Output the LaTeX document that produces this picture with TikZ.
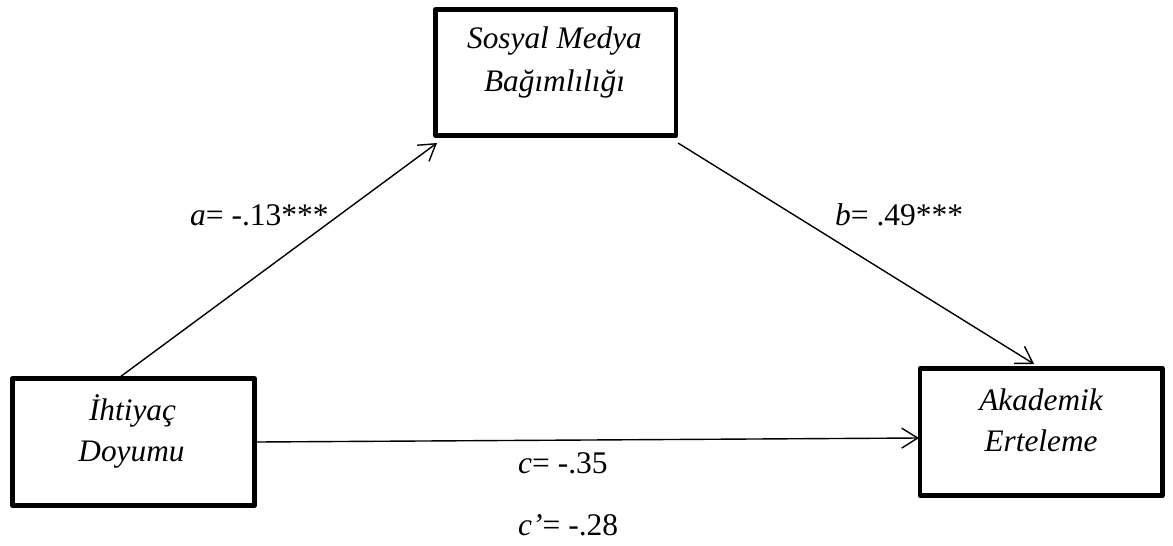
\documentclass[tikz,border=0pt]{standalone}
\usepackage{fontspec}
\setmainfont{Liberation Serif}
\usetikzlibrary{arrows.meta}
\begin{document}
\begin{tikzpicture}[x=1pt,y=-1pt,
  box/.style={draw, line width=4.5pt, line join=round, inner sep=0pt, outer sep=0pt},
  boxtext/.style={inner sep=0pt, anchor=base, font=\fontsize{31.3}{38}\selectfont\itshape},
  lab/.style={inner sep=0pt, anchor=base west, font=\fontsize{31.5}{38}\selectfont},
  conn/.style={line width=1.4pt, -{Straight Barb[length=16pt,width=20pt,line width=1.4pt]}}
]
\useasboundingbox (0,0) rectangle (1173,546);
% boxes
\node[box, minimum width=240.5pt, minimum height=126pt] (T) at (555.75,72.5) {};
\node[box, minimum width=242pt, minimum height=127pt] (L) at (133.5,442) {};
\node[box, minimum width=242.5pt, minimum height=127pt] (R) at (1041.25,432) {};
% box texts
\node[boxtext] (Tt1) at (554.5,48.3) {Sosyal Medya};
\node[boxtext] (Tt2) at (554.5,91.7) {Bağımlılığı};
\node[boxtext] (Lt1) at (132.5,420) {İhtiyaç};
\node[boxtext] (Lt2) at (131.5,461.7) {Doyumu};
\node[boxtext] (Rt1) at (1041,410) {Akademik};
\node[boxtext] (Rt2) at (1041,451.7) {Erteleme};
% connectors
\draw[conn] ([xshift=-13.5pt,yshift=1.5pt]L.north) -- ([xshift=1.5pt,yshift=-7.5pt]T.south west);
\draw[conn] ([xshift=2pt,yshift=-7.5pt]T.south east) -- ([xshift=-7.25pt,yshift=4.5pt]R.north);
\draw[conn] ([xshift=2.5pt]L.east) -- ([xshift=-1pt,yshift=-6pt]R.west);
% labels
\node[lab] (la) at (190,225) {\textit{a}= -.13***};
\node[lab] (lb) at (835,225) {\textit{b}= .49***};
\node[lab] (lc) at (518,473) {\textit{c}= -.35};
\node[lab] (lcp) at (518,535) {\textit{c’}= -.28};
\end{tikzpicture}
\end{document}
